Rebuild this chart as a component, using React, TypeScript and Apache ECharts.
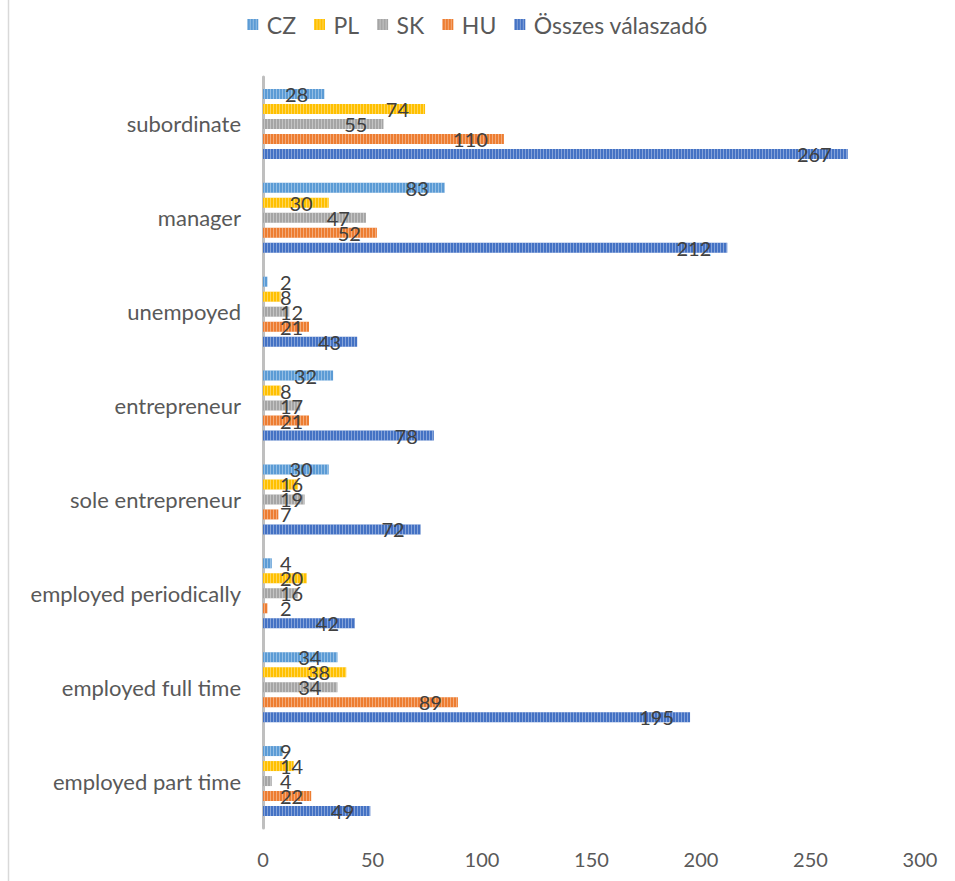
import React, { useEffect, useRef } from "react";
import * as echarts from "echarts";

const categories = [
  "employed part time",
  "employed full time",
  "employed periodically",
  "sole entrepreneur",
  "entrepreneur",
  "unempoyed",
  "manager",
  "subordinate",
];
const seriesNames = ["CZ", "PL", "SK", "HU", "Összes válaszadó"];
const cz = [9, 34, 4, 30, 32, 2, 83, 28];
const pl = [14, 38, 20, 16, 8, 8, 30, 74];
const sk = [4, 34, 16, 19, 17, 12, 47, 55];
const hu = [22, 89, 2, 7, 21, 21, 52, 110];
const total = [49, 195, 42, 72, 78, 43, 212, 267];
const xTicks = { min: 0, max: 300, interval: 50 };

const colors = ["#5B9BD5", "#FFC000", "#A5A5A5", "#ED7D31", "#4472C4"];
const FONT = "Lato, 'Noto Sans', sans-serif";

export default function App() {
  const ref = useRef<HTMLDivElement>(null);
  useEffect(() => {
    document.body.style.margin = "0";
    if (!ref.current) return;
    const chart = echarts.init(ref.current, null, { renderer: "svg" });
    const gridLeft = 263;
    const gridRight = 35;
    const plotW = 955 - gridLeft - gridRight;
    const pxPer = plotW / (xTicks.max - xTicks.min);
    const mkData = (vals: number[]) =>
      vals.map((v) => {
        const w = String(v).length * 11.5;
        const inside = v * pxPer - 16 - w >= 17;
        return {
          value: v,
          label: inside
            ? { position: "insideRight", distance: 16 }
            : { position: "insideLeft", distance: 17 },
        };
      });
    const all = [cz, pl, sk, hu, total];
    chart.setOption({
      animation: false,
      aria: { enabled: true, decal: { show: true } },
      textStyle: { fontFamily: FONT },
      legend: {
        top: 8,
        left: "center",
        itemWidth: 18,
        itemHeight: 11,
        itemGap: 18,
        icon: "path://M0 0H10V10H0Z",
        textStyle: { fontSize: 23, color: "#595959", fontFamily: FONT },
        data: seriesNames,
      },
      grid: { left: gridLeft, right: gridRight, top: 77, bottom: 53, containLabel: false },
      xAxis: {
        type: "value",
        min: xTicks.min,
        max: xTicks.max,
        interval: xTicks.interval,
        axisLine: { show: false },
        axisTick: { show: false },
        splitLine: { show: false },
        axisLabel: { fontSize: 20, color: "#595959", margin: 21, fontFamily: FONT },
      },
      yAxis: {
        type: "category",
        data: categories,
        axisLine: { show: true, lineStyle: { color: "#BFBFBF", width: 3 } },
        axisTick: { show: false },
        axisLabel: { fontSize: 22, color: "#595959", margin: 22, fontFamily: FONT },
      },
      graphic: [
        {
          type: "line",
          shape: { x1: 8.5, y1: 0, x2: 8.5, y2: 881 },
          style: { stroke: "#D9D9D9", lineWidth: 1.5 },
        },
      ],
      series: all.map((vals, i) => ({
        name: seriesNames[i],
        type: "bar",
        barWidth: 10,
        barGap: "50%",
        data: mkData(vals),
        itemStyle: {
          color: colors[i],
          decal: {
            symbol: "rect",
            symbolSize: 1,
            dashArrayX: [1, 2],
            dashArrayY: [20, 0],
            color: "rgba(255,255,255,0.35)",
            rotation: 0,
          },
        },
        label: {
          show: true,
          fontSize: 20,
          color: "#404040",
          fontFamily: FONT,
        },
      })),
    });
    return () => chart.dispose();
  }, []);
  return <div ref={ref} style={{ width: 955, height: 881 }} />;
}
